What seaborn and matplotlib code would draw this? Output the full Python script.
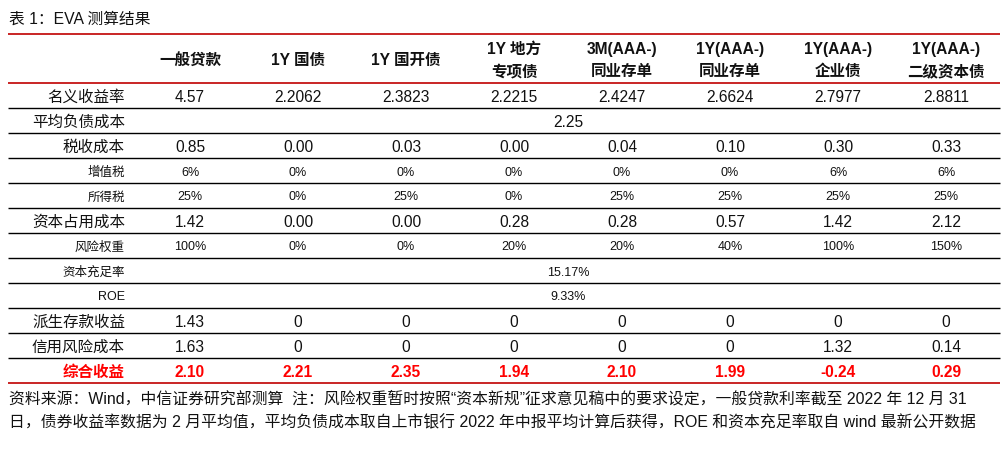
import matplotlib
matplotlib.use("Agg")
import matplotlib.pyplot as plt
import seaborn as sns

# 表格数据
columns = ["一般贷款", "1Y 国债", "1Y 国开债", "1Y 地方\n专项债", "3M(AAA-)\n同业存单",
           "1Y(AAA-)\n同业存单", "1Y(AAA-)\n企业债", "1Y(AAA-)\n二级资本债"]
nominal_yield = ["4.57", "2.2062", "2.3823", "2.2215", "2.4247", "2.6624", "2.7977", "2.8811"]
avg_liability_cost = "2.25"
tax_cost = ["0.85", "0.00", "0.03", "0.00", "0.04", "0.10", "0.30", "0.33"]
vat = ["6%", "0%", "0%", "0%", "0%", "0%", "6%", "6%"]
income_tax = ["25%", "0%", "25%", "0%", "25%", "25%", "25%", "25%"]
capital_cost = ["1.42", "0.00", "0.00", "0.28", "0.28", "0.57", "1.42", "2.12"]
risk_weight = ["100%", "0%", "0%", "20%", "20%", "40%", "100%", "150%"]
car = "15.17%"
roe = "9.33%"
deposit_gain = ["1.43", "0", "0", "0", "0", "0", "0", "0"]
credit_cost = ["1.63", "0", "0", "0", "0", "0", "1.32", "0.14"]
total_gain = ["2.10", "2.21", "2.35", "1.94", "2.10", "1.99", "-0.24", "0.29"]

title = "表 1：EVA 测算结果"
note1 = ("资料来源：Wind，中信证券研究部测算  注：风险权重暂时按照“资本新规”征求意见稿中的要求设定，"
         "一般贷款利率截至 2022 年 12 月 31")
note2 = ("日，债券收益率数据为 2 月平均值，平均负债成本取自上市银行 2022 年中报平均计算后获得，"
         "ROE 和资本充足率取自 wind 最新公开数据")

sns.set_theme(style="white")
plt.rcParams['font.family'] = ['Liberation Sans', 'Noto Sans CJK SC', 'DejaVu Sans']

fig = plt.figure(figsize=(10.08, 4.49), dpi=100)
ax = fig.add_axes([0, 0, 1, 1])
ax.set_xlim(0, 1008)
ax.set_ylim(449, 0)
ax.axis("off")

RED_LINE = "#C00000"
col_x = [190 + 108 * i for i in range(len(columns))]
mid_x = 568
label_x = 125
big = 11.2
small = 9.0

ax.text(9, 19, title, fontsize=11.3, va="center", ha="left", color="#111111")

# 表头
for x, c in zip(col_x, columns):
    ax.text(x, 60.5, c, fontsize=big, fontweight="bold", ha="center", va="center",
            linespacing=1.6, color="#111111")

rows = [
    ("名义收益率", nominal_yield, big),
    ("平均负债成本", avg_liability_cost, big),
    ("税收成本", tax_cost, big),
    ("增值税", vat, small),
    ("所得税", income_tax, small),
    ("资本占用成本", capital_cost, big),
    ("风险权重", risk_weight, small),
    ("资本充足率", car, small),
    ("ROE", roe, small),
    ("派生存款收益", deposit_gain, big),
    ("信用风险成本", credit_cost, big),
]

y = 97.5
for label, vals, fs in rows:
    ax.text(label_x, y, label, fontsize=fs, ha="right", va="center", color="#111111")
    if isinstance(vals, str):
        ax.text(mid_x, y, vals, fontsize=fs, ha="center", va="center", color="#111111")
    else:
        for x, v in zip(col_x, vals):
            ax.text(x, y, v, fontsize=fs, ha="center", va="center", color="#111111")
    ax.hlines(y + 10.5, 8, 1000, color="black", linewidth=1.0)
    y += 25

ax.text(label_x, y, "综合收益", fontsize=big, fontweight="bold", ha="right", va="center", color="#FF0000")
for x, v in zip(col_x, total_gain):
    ax.text(x, y, v, fontsize=big, fontweight="bold", ha="center", va="center", color="#FF0000")

for yy in [34, 83, 383]:
    ax.hlines(yy, 8, 1000, color=RED_LINE, linewidth=1.2)

ax.text(9, 398, note1, fontsize=11.4, ha="left", va="center", color="#111111")
ax.text(9, 423, note2, fontsize=11.4, ha="left", va="center", color="#111111")

fig.savefig("out.png", dpi=100, facecolor="white")
